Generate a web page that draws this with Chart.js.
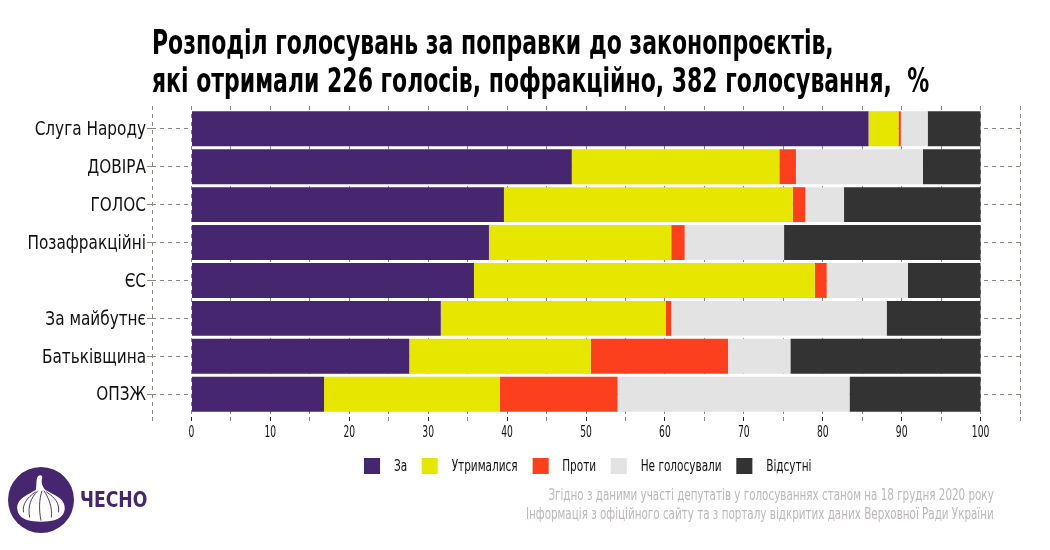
<!DOCTYPE html>
<html>
<head>
<meta charset="utf-8">
<script src="https://cdn.jsdelivr.net/npm/chart.js@4"></script>
<style>
  body { margin: 0; background: #fff; }
  #wrap { position: relative; width: 1050px; height: 550px; font-family: 'DejaVu Sans Condensed', 'DejaVu Sans', sans-serif; }
  #chart { position: absolute; left: 0; top: 0; }
  .title { position: absolute; left: 152px; top: 24px; font-size: 33px; font-weight: bold; line-height: 38px; color: #000; white-space: nowrap; transform: scaleX(0.74); transform-origin: left top; }
  .legend { position: absolute; left: 364px; top: 456px; display: flex; align-items: center; font-size: 16px; color: #111; transform: scaleX(0.73); transform-origin: left top; white-space: nowrap; }
  .legend .box { width: 22px; height: 16px; margin-right: 19px; }
  .legend .lbl { margin-right: 20px; }
  .footer { position: absolute; right: 56px; top: 485px; text-align: right; font-size: 16px; line-height: 19px; color: #bdb8b8; white-space: nowrap; transform: scaleX(0.72); transform-origin: right top; }
  .logo { position: absolute; left: 8px; top: 467px; }
  .brand { position: absolute; left: 80px; top: 488px; font-size: 21px; font-weight: bold; color: #46266f; font-family: 'DejaVu Sans', sans-serif; transform: scaleX(0.82); transform-origin: left top; }
</style>
</head>
<body>
<div id="wrap">
  <canvas id="chart" width="1050" height="550"></canvas>
  <div class="title">Розподіл голосувань за поправки до законопроєктів,<br>які отримали 226 голосів, пофракційно, 382 голосування,&nbsp; %</div>
  <div class="legend" id="legend"></div>
  <div class="footer">Згідно з даними участі депутатів у голосуваннях станом на 18 грудня 2020 року<br>Інформація з офіційного сайту та з порталу відкритих даних Верховної Ради України</div>
  <svg class="logo" width="66" height="66" viewBox="0 0 64 64">
    <circle cx="32" cy="32" r="32" fill="#46266f"/>
    <path d="M9 41 C8 30 20 27 27 22 C28 17 27 12 29 9 C31 7 34 8 33 11 C32 15 33 19 36 22 C44 27 56 30 55 41 C54 50 45 53 32 53 C19 53 10 50 9 41 Z" fill="#fff"/>
    <path d="M29 23 C22 30 19 38 21 49 M33 23 C30 32 30 42 32 52 M35 23 C40 31 43 39 42 49 M27 24 C18 30 14 36 15 44 M37 24 C46 30 50 35 49 44" stroke="#46266f" stroke-width="0.9" fill="none"/>
  </svg>
  <div class="brand">ЧЕСНО</div>
</div>
<script>
// Дані
const categories = ['Слуга Народу', 'ДОВІРА', 'ГОЛОС', 'Позафракційні', 'ЄС', 'За майбутнє', 'Батьківщина', 'ОПЗЖ'];
const seriesNames = ['За', 'Утрималися', 'Проти', 'Не голосували', 'Відсутні'];
const seriesColors = ['#46266f', '#e6e600', '#fc401e', '#e3e3e3', '#333333'];

const zaValues = [85.8, 48.2, 39.6, 37.7, 35.8, 31.6, 27.6, 16.8];
const utrymalysyaValues = [3.8, 26.3, 36.6, 23.1, 43.2, 28.5, 23.0, 22.3];
const protyValues = [0.3, 2.1, 1.6, 1.7, 1.5, 0.7, 17.4, 14.9];
const neGolosuvalyValues = [3.4, 16.1, 4.9, 12.6, 10.3, 27.3, 7.9, 29.4];
const vidsutniValues = [6.7, 7.3, 17.3, 24.9, 9.2, 11.9, 24.1, 16.6];

const xTickLabels = [0, 10, 20, 30, 40, 50, 60, 70, 80, 90, 100];

const allValues = [zaValues, utrymalysyaValues, protyValues, neGolosuvalyValues, vidsutniValues];
const gridColor = '#8c8680';
const fontFamily = "'DejaVu Sans Condensed', 'DejaVu Sans', sans-serif";

Chart.defaults.font.family = fontFamily;
Chart.defaults.color = '#111';

// Підписи осей вузьким шрифтом (стиснення по горизонталі)
const condensedTicks = {
  id: 'condensedTicks',
  afterDraw(chart) {
    const ctx = chart.ctx;
    const xs = chart.scales.x;
    const ys = chart.scales.y;
    ctx.save();
    ctx.fillStyle = '#111';

    ctx.font = '15px ' + fontFamily;
    ctx.textAlign = 'center';
    ctx.textBaseline = 'top';
    xs.ticks.forEach((t, i) => {
      if (!xTickLabels.includes(t.value)) return;
      const px = xs.getPixelForTick(i);
      ctx.save();
      ctx.translate(px, xs.top + 9);
      ctx.scale(0.68, 1);
      ctx.fillText(String(t.value), 0, 0);
      ctx.restore();
    });

    ctx.font = '20px ' + fontFamily;
    ctx.textAlign = 'right';
    ctx.textBaseline = 'middle';
    ys.ticks.forEach((t, i) => {
      const label = categories[t.value];
      if (label === undefined) return;
      const py = ys.getPixelForTick(i);
      ctx.save();
      ctx.translate(ys.right - 6, py + 1);
      ctx.scale(0.85, 1);
      ctx.fillText(label, 0, 0);
      ctx.restore();
    });
    ctx.restore();
  }
};

const datasets = seriesNames.map((name, s) => ({
  label: name,
  data: allValues[s].map((v, i) => ({ x: v, y: i })),
  backgroundColor: seriesColors[s],
  borderWidth: 0,
  barPercentage: 1,
  categoryPercentage: 0.92
}));

new Chart(document.getElementById('chart'), {
  type: 'bar',
  data: { datasets: datasets },
  plugins: [condensedTicks],
  options: {
    indexAxis: 'y',
    responsive: false,
    animation: false,
    layout: { padding: { top: 106, right: 30, bottom: 0, left: 0 } },
    plugins: { legend: { display: false }, tooltip: { enabled: false } },
    scales: {
      x: {
        type: 'linear',
        stacked: true,
        min: -5,
        max: 105,
        afterFit: scale => { scale.height = 133; },
        ticks: {
          stepSize: 5,
          autoSkip: false,
          maxRotation: 0,
          color: 'rgba(0,0,0,0)',
          font: { size: 15 },
          callback: v => xTickLabels.includes(v) ? String(v) : ''
        },
        grid: {
          color: gridColor,
          lineWidth: 1,
          tickLength: 4,
          tickColor: ctx => xTickLabels.includes(ctx.tick.value) ? '#222' : gridColor
        },
        border: { display: false, dash: [4, 4] }
      },
      y: {
        type: 'linear',
        stacked: true,
        reverse: true,
        offset: false,
        min: -0.6,
        max: 7.6,
        afterFit: scale => { scale.width = 152; },
        ticks: {
          stepSize: 1,
          includeBounds: false,
          color: 'rgba(0,0,0,0)',
          font: { size: 20 },
          callback: v => categories[v]
        },
        grid: {
          offset: false,
          color: gridColor,
          lineWidth: 1,
          tickLength: 5
        },
        border: { display: false, dash: [4, 4] }
      }
    }
  }
});

// Легенда
const legend = document.getElementById('legend');
seriesNames.forEach((name, s) => {
  const box = document.createElement('span');
  box.className = 'box';
  box.style.background = seriesColors[s];
  const lbl = document.createElement('span');
  lbl.className = 'lbl';
  lbl.textContent = name;
  legend.appendChild(box);
  legend.appendChild(lbl);
});
</script>
</body>
</html>
